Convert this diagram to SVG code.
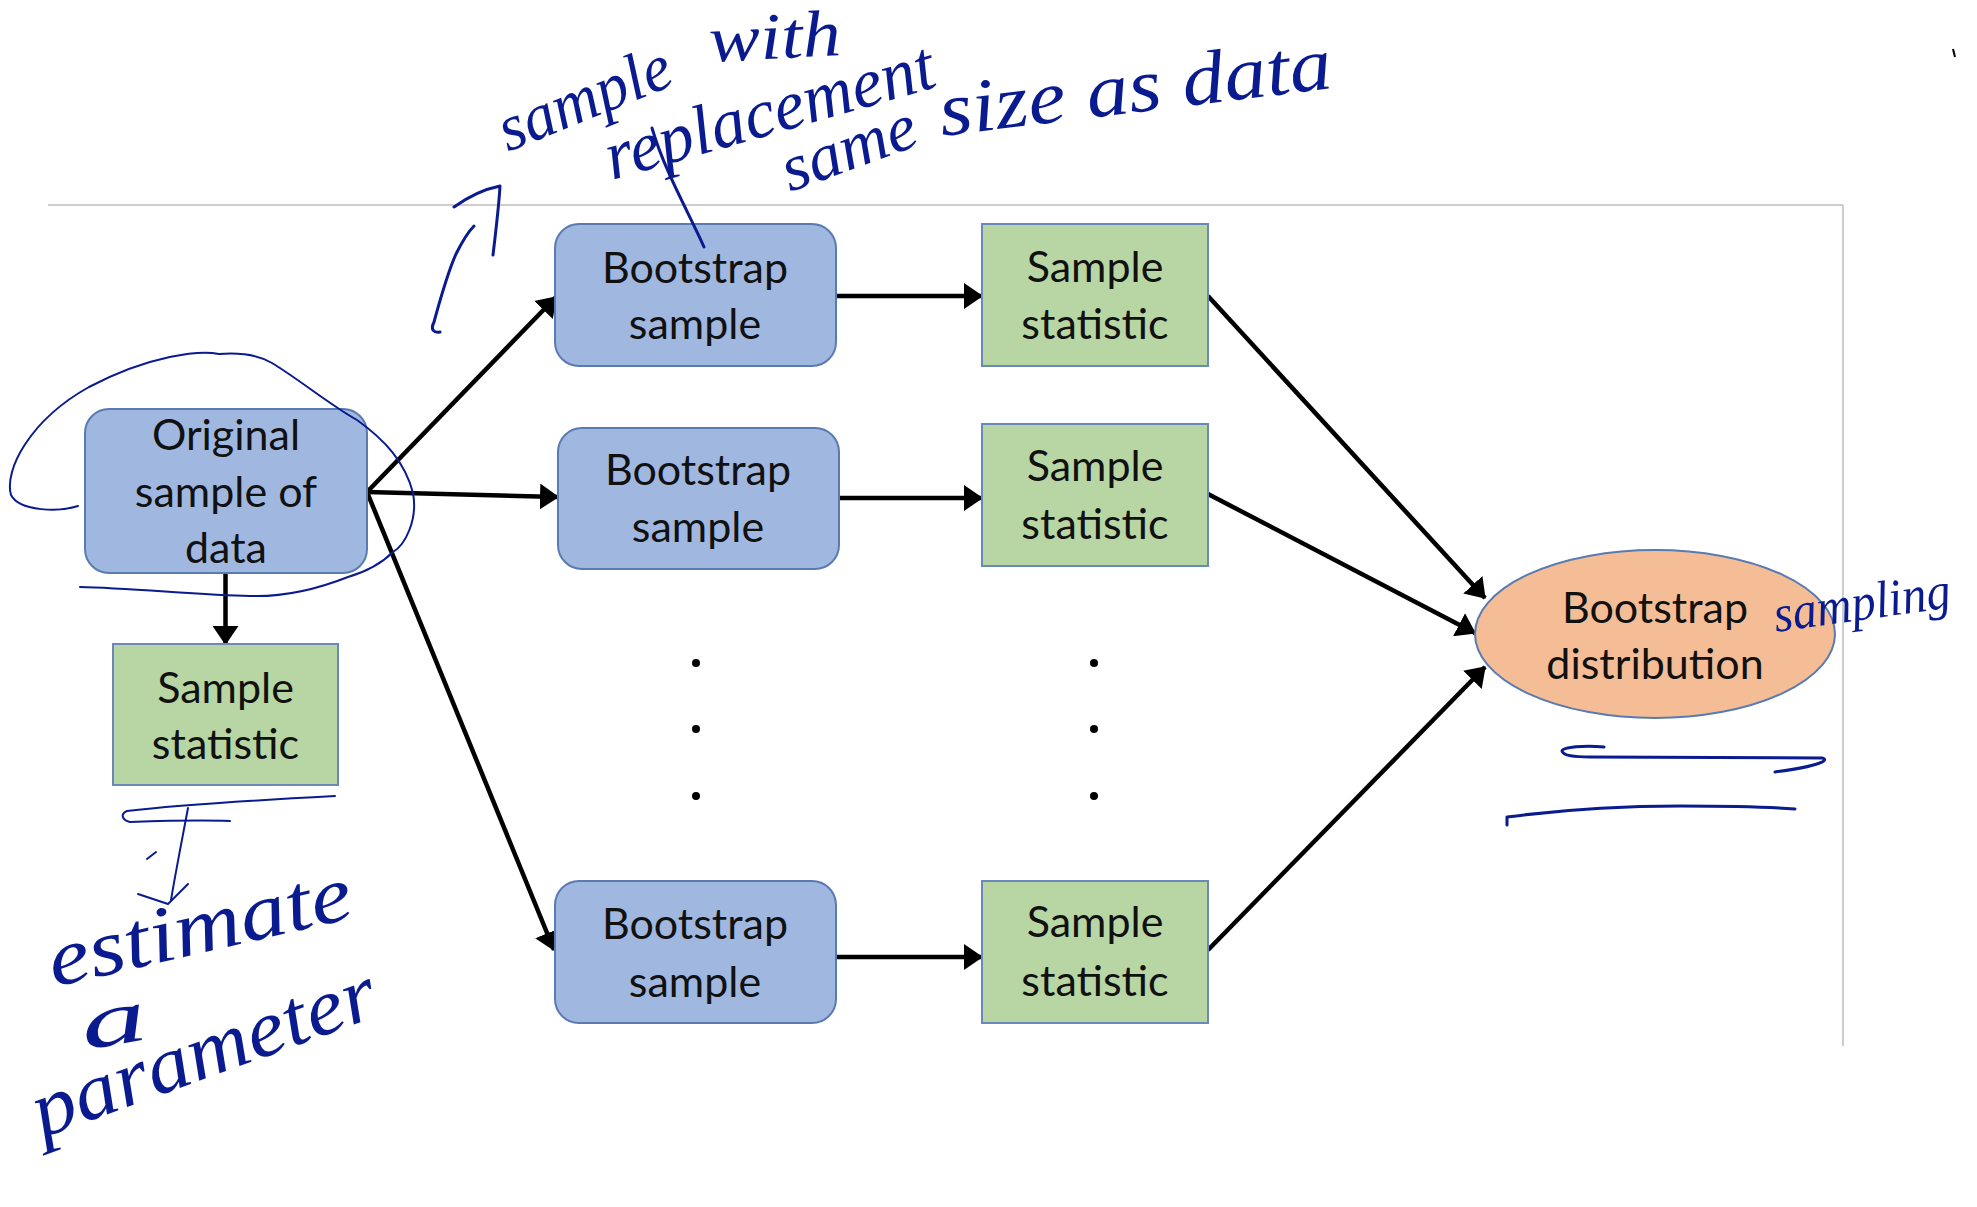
<svg xmlns="http://www.w3.org/2000/svg" width="1977" height="1207" viewBox="0 0 1977 1207">
  <style>
    .frame { stroke: #cdcdcd; stroke-width: 2; fill: none; }
    .bs { fill: #a0b8e0; stroke: #5a7ab2; stroke-width: 2; }
    .st { fill: #b8d6a4; stroke: #6a88ba; stroke-width: 2; }
    .dist { fill: #f5bd96; stroke: #5a7ab2; stroke-width: 2; }
    .lbl { font-family: Lato, "Open Sans", "Liberation Sans", sans-serif; font-size: 43px; fill: #111; text-anchor: middle; }
    .edge { stroke: #000; stroke-width: 4.5; fill: none; marker-end: url(#head); }
    .dot { fill: #000; }
    .ink { fill: none; stroke: #0a1a8f; stroke-width: 3; stroke-linecap: round; stroke-linejoin: round; }
    .ink-thin { fill: none; stroke: #0a1a8f; stroke-width: 2; stroke-linecap: round; stroke-linejoin: round; }
    .hand { font-family: "Liberation Serif", "DejaVu Serif", serif; font-style: italic; fill: #0a1a8f; }
  </style>
  <defs>
    <marker id="head" markerUnits="userSpaceOnUse" viewBox="0 0 19 26" refX="18" refY="13" markerWidth="19" markerHeight="26" orient="auto">
      <path d="M0,0 L19,13 L0,26 z" fill="#000"/>
    </marker>
  </defs>

  <rect width="1977" height="1207" fill="#fff"/>

  <!-- slide frame: top and right edges -->
  <g id="frame">
    <line class="frame" x1="48" y1="205" x2="1843" y2="205"/>
    <line class="frame" x1="1843" y1="205" x2="1843" y2="1046"/>
  </g>

  <!-- connectors -->
  <g id="connectors">
    <line class="edge" x1="367" y1="492" x2="556" y2="297"/>
    <line class="edge" x1="367" y1="492" x2="558" y2="497"/>
    <line class="edge" x1="367" y1="492" x2="554" y2="950"/>
    <line class="edge" x1="225.5" y1="573" x2="225.5" y2="644"/>
    <line class="edge" x1="836" y1="296" x2="982" y2="296"/>
    <line class="edge" x1="839" y1="498" x2="982" y2="498"/>
    <line class="edge" x1="836" y1="957" x2="982" y2="957"/>
    <line class="edge" x1="1208" y1="296" x2="1485" y2="598"/>
    <line class="edge" x1="1208" y1="494" x2="1475" y2="633"/>
    <line class="edge" x1="1208" y1="950" x2="1485" y2="667"/>
  </g>

  <g id="original">
    <rect class="bs" x="85" y="409" width="282" height="164" rx="24"/>
    <text class="lbl"><tspan x="226" y="450">Original</tspan><tspan x="226" y="507">sample of</tspan><tspan x="226" y="563">data</tspan></text>
  </g>

  <g id="stat-original">
    <rect class="st" x="113" y="644" width="225" height="141"/>
    <text class="lbl"><tspan x="225.5" y="703">Sample</tspan><tspan x="225.5" y="759">statistic</tspan></text>
  </g>

  <g id="boot-1">
    <rect class="bs" x="555" y="224" width="281" height="142" rx="24"/>
    <text class="lbl"><tspan x="695" y="283">Bootstrap</tspan><tspan x="695" y="339">sample</tspan></text>
  </g>
  <g id="boot-2">
    <rect class="bs" x="558" y="428" width="281" height="141" rx="24"/>
    <text class="lbl"><tspan x="698" y="485">Bootstrap</tspan><tspan x="698" y="542">sample</tspan></text>
  </g>
  <g id="boot-n">
    <rect class="bs" x="555" y="881" width="281" height="142" rx="24"/>
    <text class="lbl"><tspan x="695" y="939">Bootstrap</tspan><tspan x="695" y="997">sample</tspan></text>
  </g>

  <g id="stat-1">
    <rect class="st" x="982" y="224" width="226" height="142"/>
    <text class="lbl"><tspan x="1095" y="282">Sample</tspan><tspan x="1095" y="339">statistic</tspan></text>
  </g>
  <g id="stat-2">
    <rect class="st" x="982" y="424" width="226" height="142"/>
    <text class="lbl"><tspan x="1095" y="481">Sample</tspan><tspan x="1095" y="539">statistic</tspan></text>
  </g>
  <g id="stat-n">
    <rect class="st" x="982" y="881" width="226" height="142"/>
    <text class="lbl"><tspan x="1095" y="937">Sample</tspan><tspan x="1095" y="996">statistic</tspan></text>
  </g>

  <g id="ellipsis">
    <circle class="dot" cx="696" cy="663" r="4"/>
    <circle class="dot" cx="696" cy="729" r="4"/>
    <circle class="dot" cx="696" cy="796" r="4"/>
    <circle class="dot" cx="1094" cy="663" r="4"/>
    <circle class="dot" cx="1094" cy="729" r="4"/>
    <circle class="dot" cx="1094" cy="796" r="4"/>
  </g>

  <g id="distribution">
    <ellipse class="dist" cx="1655" cy="634" rx="180" ry="84"/>
    <text class="lbl"><tspan x="1655" y="623">Bootstrap</tspan><tspan x="1655" y="679">distribution</tspan></text>
  </g>

  <!-- pen notes -->
  <g id="notes">
    <text class="hand" font-size="66" textLength="182" lengthAdjust="spacingAndGlyphs" transform="translate(508,152) rotate(-22)">sample</text>
    <text class="hand" font-size="66" textLength="132" lengthAdjust="spacingAndGlyphs" transform="translate(710,62) rotate(-3)">with</text>
    <text class="hand" font-size="70" textLength="340" lengthAdjust="spacingAndGlyphs" transform="translate(612,180) rotate(-16)">replacement</text>
    <text class="hand" font-size="66" textLength="140" lengthAdjust="spacingAndGlyphs" transform="translate(790,192) rotate(-20)">same</text>
    <text class="hand" font-size="76" textLength="395" lengthAdjust="spacingAndGlyphs" transform="translate(942,136) rotate(-7)">size as data</text>
    <text class="hand" font-size="52" textLength="178" lengthAdjust="spacingAndGlyphs" transform="translate(1776,632) rotate(-8)">sampling</text>
    <text class="hand" font-size="80" textLength="310" lengthAdjust="spacingAndGlyphs" transform="translate(54,987) rotate(-13)">estimate</text>
    <text class="hand" font-size="76" textLength="66" lengthAdjust="spacingAndGlyphs" transform="translate(85,1050) rotate(-10)">a</text>
    <text class="hand" font-size="80" textLength="362" lengthAdjust="spacingAndGlyphs" transform="translate(42,1138) rotate(-20)">parameter</text>

    <!-- arrow pointing up toward the note -->
    <path class="ink" d="M440,332 C434,333 430,330 434,322 C440,300 448,272 456,254 C462,242 468,232 474,226"/>
    <path class="ink" d="M454,207 C468,197 485,189 500,186 C499,205 496,230 493,255"/>
    <!-- pointer from the note down to the first bootstrap sample -->
    <path class="ink" d="M652,128 C664,170 690,215 704,247"/>
    <!-- loop round the original sample -->
    <path class="ink-thin" d="M78,506 C60,512 20,512 11,495 C4,470 30,420 89,387 C150,355 200,350 219,354 C245,352 262,357 272,363 C300,380 330,405 357,420 C385,440 405,462 413,493 C418,520 405,545 393,552 C380,565 365,572 348,577 C310,592 280,597 250,596 C200,595 130,588 80,587"/>
    <!-- double underline and arrow under the left statistic -->
    <path class="ink-thin" d="M335,796 C260,800 170,806 127,811 C120,814 122,820 130,822 C160,821 200,820 230,821"/>
    <path class="ink-thin" d="M188,808 C182,840 176,870 171,900"/>
    <path class="ink-thin" d="M138,894 L168,904 L188,884"/>
    <path class="ink-thin" d="M147,859 L156,852"/>
    <!-- underlines beneath the bootstrap distribution -->
    <path class="ink" d="M1604,747 C1585,745 1562,747 1562,751 C1563,756 1575,757 1590,757 L1822,758 C1830,760 1820,766 1775,772"/>
    <path class="ink" d="M1507,825 L1507,817 C1560,810 1620,806 1680,806 C1730,806 1770,807 1795,809"/>
    <path d="M1953,49 L1955,57" stroke="#000" stroke-width="2"/>
  </g>
</svg>
